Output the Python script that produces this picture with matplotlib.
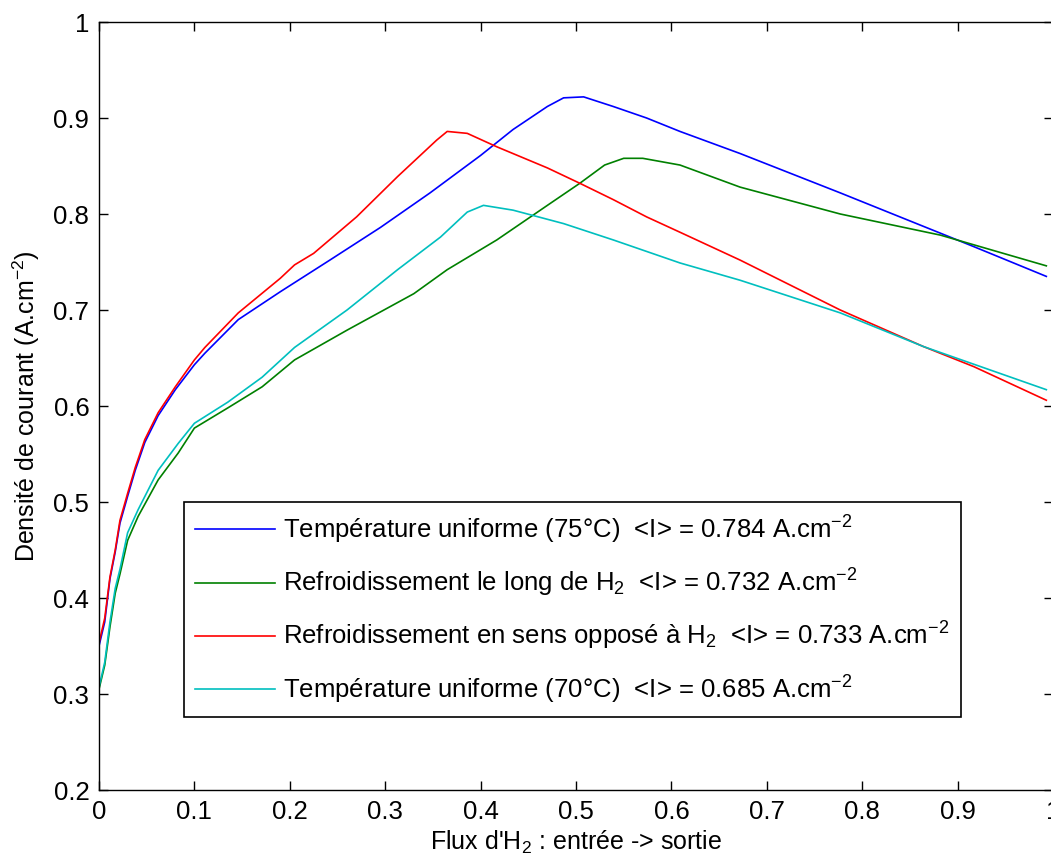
import matplotlib
matplotlib.use('Agg')
import matplotlib.pyplot as plt

plt.rcParams['font.family'] = ['Liberation Sans', 'DejaVu Sans']
plt.rcParams['mathtext.fontset'] = 'custom'
plt.rcParams['mathtext.rm'] = 'Liberation Sans'
plt.rcParams['mathtext.it'] = 'Liberation Sans'

# courbes
x_75 = [0, 0.006, 0.0115, 0.017, 0.022, 0.030, 0.038, 0.048, 0.062, 0.080, 0.10, 0.111, 0.146,
        0.19, 0.242, 0.295, 0.347, 0.40, 0.434, 0.47, 0.487, 0.508, 0.539, 0.574, 0.609, 0.672,
        0.777, 0.882, 0.917, 0.993]
y_75 = [0.35, 0.375, 0.42, 0.448, 0.478, 0.506, 0.533, 0.562, 0.59, 0.617, 0.643, 0.655, 0.69,
        0.719, 0.752, 0.786, 0.822, 0.861, 0.888, 0.912, 0.921, 0.922, 0.912, 0.90, 0.886, 0.863,
        0.822, 0.78, 0.766, 0.735]

x_long = [0, 0.006, 0.0115, 0.017, 0.022, 0.030, 0.041, 0.062, 0.083, 0.10, 0.135, 0.171, 0.205,
          0.26, 0.33, 0.365, 0.417, 0.47, 0.504, 0.530, 0.55, 0.57, 0.609, 0.672, 0.777, 0.882, 0.993]
y_long = [0.305, 0.33, 0.37, 0.405, 0.425, 0.46, 0.485, 0.523, 0.551, 0.577, 0.598, 0.62, 0.648,
          0.679, 0.717, 0.742, 0.773, 0.809, 0.832, 0.851, 0.858, 0.858, 0.851, 0.828, 0.80, 0.778, 0.746]

x_opp = [0, 0.006, 0.0115, 0.017, 0.022, 0.030, 0.038, 0.048, 0.062, 0.080, 0.10, 0.111, 0.146,
         0.19, 0.205, 0.225, 0.27, 0.313, 0.354, 0.365, 0.386, 0.417, 0.47, 0.504, 0.539, 0.574,
         0.609, 0.672, 0.777, 0.864, 0.917, 0.993]
y_opp = [0.353, 0.379, 0.422, 0.45, 0.481, 0.509, 0.536, 0.565, 0.593, 0.620, 0.648, 0.661, 0.697,
         0.733, 0.747, 0.759, 0.797, 0.839, 0.877, 0.886, 0.884, 0.87, 0.848, 0.832, 0.815, 0.797,
         0.781, 0.752, 0.70, 0.662, 0.641, 0.606]

x_70 = [0, 0.006, 0.0115, 0.017, 0.022, 0.030, 0.041, 0.062, 0.083, 0.10, 0.135, 0.171, 0.205,
        0.26, 0.313, 0.358, 0.386, 0.403, 0.434, 0.487, 0.539, 0.609, 0.672, 0.777, 0.864, 0.993]
y_70 = [0.307, 0.333, 0.375, 0.41, 0.43, 0.468, 0.492, 0.533, 0.561, 0.582, 0.604, 0.630, 0.661,
        0.70, 0.742, 0.776, 0.802, 0.809, 0.804, 0.79, 0.773, 0.749, 0.731, 0.697, 0.662, 0.617]

labels = ['Température uniforme (75°C)  <I> = 0.784 A.cm$^{-2}$',
          'Refroidissement le long de H$_2$  <I> = 0.732 A.cm$^{-2}$',
          'Refroidissement en sens opposé à H$_2$  <I> = 0.733 A.cm$^{-2}$',
          'Température uniforme (70°C)  <I> = 0.685 A.cm$^{-2}$']
colors = ['#0000ff', '#008000', '#ff0000', '#00bfbf']

xticks = [0, 0.1, 0.2, 0.3, 0.4, 0.5, 0.6, 0.7, 0.8, 0.9, 1]
xticklabels = ['0', '0.1', '0.2', '0.3', '0.4', '0.5', '0.6', '0.7', '0.8', '0.9', '1']
yticks = [0.2, 0.3, 0.4, 0.5, 0.6, 0.7, 0.8, 0.9, 1]
yticklabels = ['0.2', '0.3', '0.4', '0.5', '0.6', '0.7', '0.8', '0.9', '1']

fig = plt.figure(figsize=(10.51, 8.63), dpi=100)
ax = fig.add_axes([99 / 1051, 73 / 863, 954 / 1051, 768 / 863])

series = [(x_75, y_75), (x_long, y_long), (x_opp, y_opp), (x_70, y_70)]
for (xs, ys), c, lab in zip(series, colors, labels):
    ax.plot(xs, ys, color=c, linewidth=1.2, label=lab)

ax.set_xlim(0, 1)
ax.set_ylim(0.2, 1)
ax.set_xticks(xticks)
ax.set_xticklabels(xticklabels)
ax.set_yticks(yticks)
ax.set_yticklabels(yticklabels)
ax.tick_params(direction='in', length=6.5, width=1, top=True, right=True,
               labelsize=18.5, pad=7)
for sp in ax.spines.values():
    sp.set_linewidth(1)

ax.set_xlabel("Flux d'H$_2$ : entrée -> sortie", fontsize=18, labelpad=4)
ax.set_ylabel('Densité de courant (A.cm$^{-2}$)', fontsize=18, labelpad=8)

leg = ax.legend(loc='upper left', bbox_to_anchor=(0.089, 0.375), fontsize=18.5,
                frameon=True, fancybox=False, edgecolor='black', framealpha=1,
                handlelength=3.1, handletextpad=0.3, borderpad=0.45, labelspacing=0.82,
                borderaxespad=0)
leg.get_frame().set_linewidth(1.2)

fig.savefig('out.png', dpi=100)
